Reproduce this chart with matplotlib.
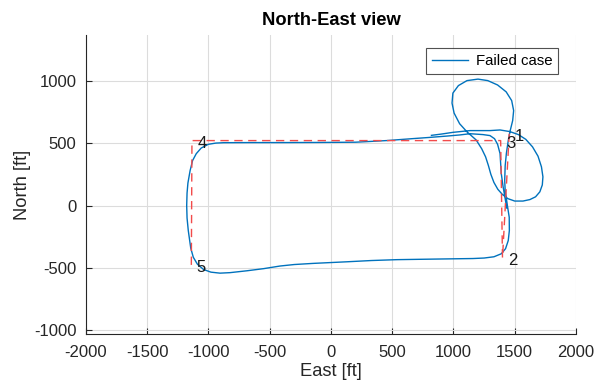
import matplotlib
matplotlib.use('Agg')
import matplotlib.pyplot as plt

plt.rcParams['font.family'] = ['Liberation Sans', 'DejaVu Sans']
plt.rcParams['axes.unicode_minus'] = False

# trajectory (ft)
east_ft = [820, 900, 996, 1135, 1298, 1380, 1460, 1530, 1590, 1645, 1690, 1718, 1730,
           1725, 1705, 1670, 1624, 1567, 1500, 1445, 1400, 1362, 1330, 1305, 1285, 1262,
           1230, 1185, 1110, 1050, 1005, 988, 995, 1040, 1110, 1200, 1280, 1360, 1430,
           1475, 1491, 1483, 1463, 1447, 1432, 1422, 1418, 1422, 1440, 1455, 1456,
           1447, 1425, 1390, 1330, 1250, 1159, 947, 739, 539, 330, 131, -147, -300,
           -416, -550, -686, -824, -906, -980, -1040, -1090, -1124, -1145, -1165,
           -1175, -1178, -1175, -1168, -1150, -1130, -1100, -1060, -1002, -940, -879,
           -661, -400, -100, 200, 454, 672, 800, 944, 1050, 1135, 1241, 1298, 1335,
           1360, 1380, 1390, 1405, 1420, 1435]
north_ft = [562, 572, 586, 600, 600, 605, 592, 568, 530, 470, 395, 310, 230,
            165, 110, 70, 48, 36, 36, 55, 88, 130, 185, 250, 320, 390,
            455, 525, 590, 655, 740, 820, 900, 960, 1000, 1012, 1000, 965, 910,
            840, 760, 680, 600, 520, 420, 320, 200, 120, 0, -94, -200,
            -280, -345, -386, -410, -420, -424, -427, -430, -433, -440, -450, -463, -472,
            -484, -505, -522, -537, -541, -533, -512, -470, -414, -340, -200,
            -100, 0, 100, 180, 280, 360, 415, 460, 490, 500, 503,
            504, 504, 505, 507, 520, 536, 545, 556, 565, 575, 568, 560, 535,
            490, 416, 256, 150, 66, -20]

# waypoints
wp_east = [1455, 1400, 1385, -1135, -1140]
wp_north = [575, -420, 520, 520, -475]
wp_labels = ['1', '2', '3', '4', '5']

fig = plt.figure(figsize=(5.98, 3.89), dpi=100)
ax = fig.add_axes([0.1438, 0.1414, 0.8194, 0.7686])

ax.plot(east_ft, north_ft, color='#0072BD', lw=1.0, label='Failed case')
ax.plot(wp_east, wp_north, color='#f24b4b', lw=1.0, ls=(0, (6, 4)))
for e, n, t in zip(wp_east, wp_north, wp_labels):
    ax.text(e + 45, n - 20, t, ha='left', va='center', fontsize=12, color='#1a1a1a')

ax.set_xlim(-2000, 2000)
ax.set_ylim(-1028, 1365)
ax.set_xticks(range(-2000, 2001, 500))
ax.set_yticks(range(-1000, 1001, 500))
ax.grid(True, color='#dcdcdc', lw=0.8)
ax.set_axisbelow(True)
for s in ['top', 'right']:
    ax.spines[s].set_visible(False)
for s in ['left', 'bottom']:
    ax.spines[s].set_color('#262626')
    ax.spines[s].set_linewidth(0.8)
ax.tick_params(direction='in', length=4, width=0.8, colors='#262626', labelsize=12)
ax.tick_params(axis='x', pad=8)
ax.tick_params(axis='y', pad=7)

ax.set_title('North-East view', fontsize=13.2, fontweight='bold', pad=7)
ax.set_xlabel('East [ft]', fontsize=13.2, color='#262626', labelpad=2)
ax.set_ylabel('North [ft]', fontsize=13.2, color='#262626', labelpad=2)

leg = ax.legend(loc='upper right', bbox_to_anchor=(0.964, 0.955), fontsize=10.8,
                frameon=True, fancybox=False, handlelength=2.4, borderaxespad=0,
                borderpad=0.4, handletextpad=0.5)
leg.get_frame().set_edgecolor('#262626')
leg.get_frame().set_linewidth(0.8)

fig.savefig('out.png', dpi=100)
